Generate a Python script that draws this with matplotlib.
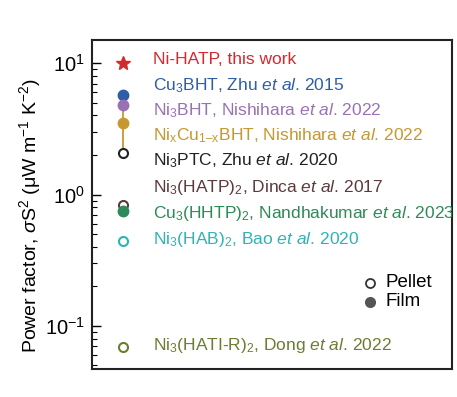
import matplotlib
matplotlib.use("Agg")
import matplotlib.pyplot as plt
import numpy as np

plt.rcParams["font.family"] = ["Liberation Sans", "DejaVu Sans"]
plt.rcParams["mathtext.fontset"] = "custom"
plt.rcParams["mathtext.rm"] = "Liberation Sans"
plt.rcParams["mathtext.it"] = "Liberation Sans:italic"
plt.rcParams["mathtext.bf"] = "Liberation Sans:bold"

# materials, power factor values (uW m^-1 K^-2), sample form
labels = [
    "Ni-HATP, this work",
    "Cu$_3$BHT, Zhu $\\mathit{et\\ al}$. 2015",
    "Ni$_3$BHT, Nishihara $\\mathit{et\\ al}$. 2022",
    "Ni$_\\mathrm{x}$Cu$_{\\mathrm{1–x}}$BHT, Nishihara $\\mathit{et\\ al}$. 2022",
    "Ni$_3$PTC, Zhu $\\mathit{et\\ al}$. 2020",
    "Ni$_3$(HATP)$_2$, Dinca $\\mathit{et\\ al}$. 2017",
    "Cu$_3$(HHTP)$_2$, Nandhakumar $\\mathit{et\\ al}$. 2023",
    "Ni$_3$(HAB)$_2$, Bao $\\mathit{et\\ al}$. 2020",
    "Ni$_3$(HATI-R)$_2$, Dong $\\mathit{et\\ al}$. 2022",
]
values = [10.0, 5.7, 4.8, 3.5, 2.07, 0.83, 0.75, 0.44, 0.069]
films = [True, True, True, True, False, False, True, False, False]
colors = ["#d42a2f", "#2f5ea6", "#9a72b4", "#c6982f", "#222222",
          "#5b3a3e", "#2e8a58", "#2fb3b5", "#6b7d30"]
# NixCu1-xBHT range bar
range_low, range_high = 2.07, 4.8

label_y = [0.940, 0.860, 0.787, 0.711, 0.632, 0.553, 0.474, 0.393, 0.071]

fig = plt.figure(figsize=(4.57, 3.97), dpi=100)
ax = fig.add_axes([0.2013, 0.0705, 0.7877, 0.8285])

ax.plot([0, 0], [range_low, range_high], color=colors[3], lw=1.3, zorder=1)
for i, (v, f, c) in enumerate(zip(values, films, colors)):
    if i == 0:
        ax.plot(0, v, marker="*", ms=10, color=c, mec=c, zorder=3)
    elif f:
        ax.plot(0, v, marker="o", ms=7.5, color=c, mec=c, zorder=3)
    else:
        ax.plot(0, v, marker="o", ms=6.5, mfc="white", mec=c, mew=1.5, zorder=3)

for lab, y, c in zip(labels, label_y, colors):
    ax.text(0.169, y, lab, color=c, fontsize=12.5, transform=ax.transAxes,
            va="center", clip_on=True)

# Pellet / Film key
ax.plot(0.771, 0.262, marker="o", ms=6.5, mfc="white", mec="#333333", mew=1.3,
        transform=ax.transAxes)
ax.plot(0.771, 0.205, marker="o", ms=7, color="#555555", transform=ax.transAxes)
ax.text(0.815, 0.262, "Pellet", fontsize=13.5, transform=ax.transAxes, va="center")
ax.text(0.815, 0.205, "Film", fontsize=13.5, transform=ax.transAxes, va="center")

ax.set_yscale("log")
ax.set_ylim(10 ** -1.328, 10 ** 1.176)
ax.set_xlim(-0.36, 3.8)
ax.set_xticks([])
ax.tick_params(axis="y", which="both", direction="in", right=False, labelsize=14.5, pad=5)
ax.tick_params(axis="y", which="major", length=6.5, width=1)
ax.tick_params(axis="y", which="minor", length=3.5, width=0.8)
for s in ax.spines.values():
    s.set_linewidth(1.5)
    s.set_color("#222222")

ax.set_ylabel("Power factor, $\\mathit{\\sigma}$S$^2$ (μW m$^{-1}$ K$^{-2}$)",
              fontsize=14)
ax.yaxis.set_label_coords(-0.136, 0.465)

fig.savefig("out.png", dpi=100)
